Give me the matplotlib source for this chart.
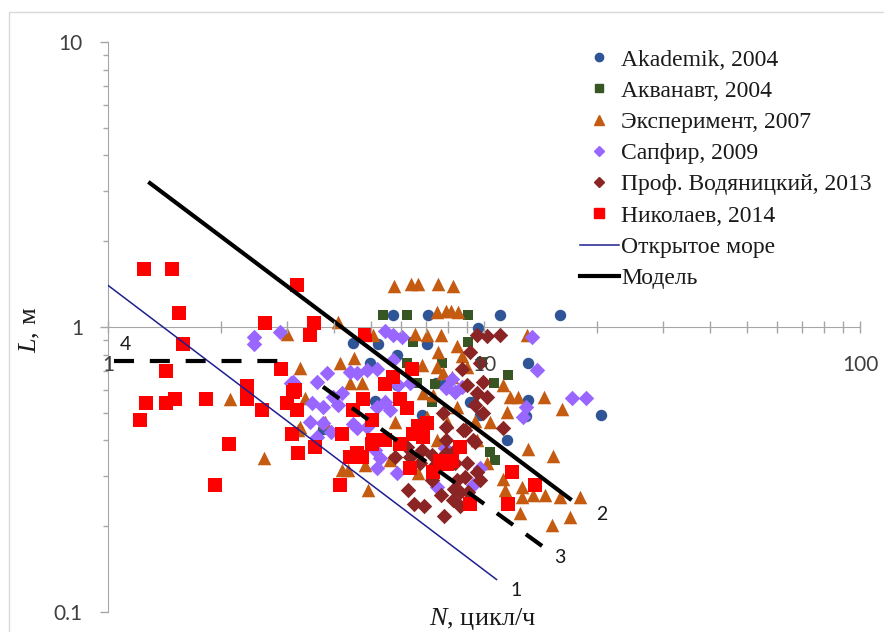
import matplotlib
matplotlib.use("Agg")
import matplotlib.pyplot as plt
from matplotlib.lines import Line2D
from matplotlib.patches import Rectangle
from matplotlib.ticker import LogLocator, NullFormatter, FixedLocator, FixedFormatter

plt.rcParams['font.family'] = ['Liberation Serif', 'DejaVu Serif']
plt.rcParams['mathtext.fontset'] = 'custom'
plt.rcParams['mathtext.it'] = 'Liberation Serif:italic'
plt.rcParams['mathtext.rm'] = 'Liberation Serif'

# ---------------------------------------------------------------- data
# N, cycles/h  and  L, m
akademik_N = [5.73, 7.10, 11.0, 15.9, 9.64, 4.49, 5.23, 7.05, 4.98, 13.1, 5.13, 6.84,
              7.45, 7.93, 9.35, 9.76, 13.1, 12.9, 11.5, 3.73, 5.87, 20.5, 5.87, 9.18]
akademik_L = [1.10, 1.10, 1.10, 1.10, 0.99, 0.879, 0.872, 0.872, 0.748, 0.748, 0.550, 0.491,
              0.636, 0.636, 0.545, 0.491, 0.555, 0.487, 0.401, 0.439, 0.626, 0.491, 0.798, 0.545]

akvanavt_N = [5.39, 6.24, 9.07, 9.07, 6.49, 7.74, 6.24, 11.6, 10.6, 6.63, 7.41, 10.4,
              10.7, 9.87, 7.27, 5.45]
akvanavt_L = [1.10, 1.10, 1.10, 0.886, 0.886, 0.748, 0.748, 0.679, 0.636, 0.636, 0.631, 0.365,
              0.341, 0.754, 0.545, 0.626]

eksperiment_N = [5.76, 6.40, 6.68, 7.55, 8.27, 7.50, 7.93, 8.17, 8.53, 4.09, 2.99, 6.55,
                 7.05, 7.69, 13.0, 4.14, 4.51, 3.24, 6.84, 7.55, 8.47, 8.74, 9.01, 7.50,
                 4.40, 4.73, 6.88, 7.32, 7.78, 8.22, 11.2, 11.7, 12.3, 14.4, 16.1, 11.5,
                 10.4, 9.46, 7.98, 8.47, 5.80, 7.05, 13.1, 15.3, 4.19, 4.35, 4.92, 4.83,
                 9.58, 10.2, 11.2, 12.6, 13.5, 11.4, 12.6, 14.5, 15.9, 18.0, 16.9, 15.2,
                 12.5, 2.11, 2.60, 3.20, 3.34, 3.78, 3.24, 5.62, 6.68, 7.50, 5.07]
eksperiment_L = [1.39, 1.42, 1.42, 1.42, 1.39, 1.13, 1.14, 1.14, 1.13, 1.04, 0.945, 0.945,
                 0.937, 0.937, 0.937, 0.748, 0.778, 0.718, 0.736, 0.817, 0.858, 0.791, 0.724, 0.724,
                 0.636, 0.636, 0.587, 0.577, 0.690, 0.668, 0.626, 0.568, 0.568, 0.568, 0.516, 0.503,
                 0.464, 0.468, 0.464, 0.524, 0.464, 0.483, 0.373, 0.353, 0.315, 0.315, 0.268, 0.328,
                 0.401, 0.333, 0.293, 0.275, 0.257, 0.268, 0.253, 0.257, 0.253, 0.253, 0.215, 0.202,
                 0.223, 0.559, 0.347, 0.435, 0.563, 0.464, 0.446, 0.341, 0.307, 0.401, 0.937]

sapfir_N = [2.44, 2.44, 2.87, 3.07, 3.60, 3.82, 3.49, 3.73, 3.45, 3.73, 3.96, 4.19, 4.09,
            4.40, 4.60, 4.89, 5.19, 5.45, 5.73, 6.06, 5.73, 6.36, 5.91, 8.22, 8.74, 7.93,
            8.37, 13.4, 13.8, 17.1, 18.7, 12.9, 12.7, 5.19, 5.62, 4.60, 4.89, 4.49, 5.13,
            5.29, 5.19, 5.87, 7.50, 9.35, 9.76, 7.88, 5.45, 3.60, 3.93, 3.10]
sapfir_L = [0.922, 0.872, 0.960, 0.636, 0.641, 0.690, 0.541, 0.524, 0.464, 0.460, 0.568, 0.587, 0.533,
            0.695, 0.690, 0.707, 0.712, 0.968, 0.937, 0.922, 0.766, 0.636, 0.626, 0.657, 0.616, 0.611,
            0.591, 0.922, 0.707, 0.563, 0.563, 0.524, 0.483, 0.524, 0.512, 0.442, 0.446, 0.457, 0.370,
            0.347, 0.320, 0.307, 0.275, 0.279, 0.320, 0.377, 0.545, 0.411, 0.428, 0.641]

vodyanitsky_N = [9.58, 10.2, 11.0, 9.18, 8.74, 9.76, 9.93, 9.58, 10.2, 9.01, 7.78, 8.90,
                 9.46, 11.2, 7.93, 6.28, 6.51, 6.93, 7.69, 8.32, 7.27, 5.80, 6.76, 7.93,
                 8.90, 9.58, 8.37, 6.24, 7.83, 8.27, 6.36, 7.41, 7.93, 8.37, 9.46, 9.93,
                 8.79, 9.35, 9.76, 8.47, 8.63, 8.63, 9.07, 9.01, 6.84, 7.27]
vodyanitsky_L = [0.937, 0.930, 0.937, 0.817, 0.712, 0.748, 0.641, 0.587, 0.568, 0.626, 0.499, 0.435,
                 0.395, 0.442, 0.446, 0.268, 0.239, 0.235, 0.257, 0.270, 0.290, 0.350, 0.334, 0.361,
                 0.298, 0.310, 0.334, 0.380, 0.217, 0.247, 0.350, 0.328, 0.401, 0.370, 0.533, 0.499,
                 0.435, 0.401, 0.290, 0.290, 0.264, 0.235, 0.264, 0.334, 0.370, 0.356]

nikolaev_N = [1.25, 1.48, 1.54, 1.58, 1.22, 1.26, 1.43, 1.51, 1.82, 1.43, 1.93, 2.10,
              2.34, 2.34, 2.57, 2.62, 2.89, 2.99, 3.10, 3.18, 3.18, 3.53, 3.45, 3.08,
              3.20, 3.55, 4.14, 4.19, 4.40, 4.73, 4.76, 4.49, 5.04, 5.04, 5.45, 4.83,
              5.45, 5.73, 6.43, 5.98, 6.24, 6.49, 6.68, 7.05, 6.88, 6.36, 7.32, 7.98,
              7.64, 5.98, 8.63, 8.22, 11.9, 13.7, 11.6, 9.18, 3.14, 4.60, 5.08]
nikolaev_L = [1.60, 1.60, 1.12, 0.87, 0.47, 0.54, 0.54, 0.56, 0.56, 0.70, 0.28, 0.39,
              0.62, 0.56, 0.51, 1.03, 0.71, 0.54, 0.59, 0.51, 1.40, 1.03, 0.94, 0.42,
              0.36, 0.38, 0.28, 0.42, 0.35, 0.35, 0.56, 0.51, 0.47, 0.39, 0.40, 0.94,
              0.63, 0.67, 0.71, 0.56, 0.52, 0.42, 0.45, 0.46, 0.41, 0.32, 0.31, 0.33,
              0.34, 0.39, 0.38, 0.34, 0.31, 0.28, 0.24, 0.24, 0.60, 0.36, 0.40]

# lines: 1 - open sea, 2 - model, 3 and 4 - dashed
open_sea_N = [1.0, 10.8]
open_sea_L = [1.40, 0.130]
model_N = [1.28, 17.1]
model_L = [3.23, 0.247]
line3_N = [3.73, 14.4]
line3_L = [0.617, 0.169]
line4_N = [1.04, 2.9]
line4_L = [0.76, 0.76]

line_tags = ['1', '2', '3', '4']
tag_N = [12.2, 20.6, 15.9, 1.11]
tag_L = [0.119, 0.219, 0.155, 0.865]

series_names = ['Akademik, 2004', 'Акванавт, 2004', 'Эксперимент, 2007', 'Сапфир, 2009',
                'Проф. Водяницкий, 2013', 'Николаев, 2014']
line_names = ['Открытое море', 'Модель']

x_ticks = [1, 10, 100]
x_ticklabels = ['1', '10', '100']
y_ticks = [0.1, 1, 10]
y_ticklabels = ['0.1', '1', '10']

# ---------------------------------------------------------------- plot
fig = plt.figure(figsize=(8.84, 6.32), dpi=100)
ax = fig.add_axes([108/884, 1 - 612/632, 752/884, 570/632])
ax.set_xscale('log')
ax.set_yscale('log')
ax.set_xlim(1, 100)
ax.set_ylim(0.1, 10)

c_blue = '#2F5597'
c_green = '#375623'
c_orange = '#C55A11'
c_purple = '#9966FF'
c_brown = '#8B2525'
c_red = '#FF0000'
c_navy = '#1F1F8F'

ax.scatter(akademik_N, akademik_L, marker='o', s=68, color=c_blue, lw=0, zorder=3)
ax.scatter(akvanavt_N, akvanavt_L, marker='s', s=60, color=c_green, lw=0, zorder=3)
ax.scatter(eksperiment_N, eksperiment_L, marker='^', s=95, color=c_orange, lw=0, zorder=3)
ax.scatter(sapfir_N, sapfir_L, marker='D', s=62, color=c_purple, lw=0, zorder=3)
ax.scatter(vodyanitsky_N, vodyanitsky_L, marker='D', s=62, color=c_brown, lw=0, zorder=3)
ax.scatter(nikolaev_N, nikolaev_L, marker='s', s=92, color=c_red, lw=0, zorder=3)

ax.plot(open_sea_N, open_sea_L, color=c_navy, lw=1.1, zorder=4)
ax.plot(model_N, model_L, color='black', lw=3, solid_capstyle='butt', zorder=4)
ax.plot(line3_N, line3_L, color='black', lw=3, ls=(0, (4.8, 3.8)), zorder=4)
ax.plot(line4_N, line4_L, color='black', lw=3, ls=(0, (4.8, 3.8)), zorder=4)

for t, n, l in zip(line_tags, tag_N, tag_L):
    ax.text(n, l, t, family='Lato', fontsize=14, color='#1a1a1a',
            ha='center', va='center', zorder=5)

# axes styling
for s in ['top', 'right']:
    ax.spines[s].set_visible(False)
ax.spines['bottom'].set_position(('data', 1))
ax.spines['bottom'].set_color('#a6a6a6')
ax.spines['left'].set_color('#a6a6a6')

ax.xaxis.set_major_locator(FixedLocator(x_ticks))
ax.xaxis.set_major_formatter(FixedFormatter(x_ticklabels))
ax.xaxis.set_minor_locator(LogLocator(base=10, subs=range(2, 10)))
ax.xaxis.set_minor_formatter(NullFormatter())
ax.yaxis.set_major_locator(FixedLocator(y_ticks))
ax.yaxis.set_major_formatter(FixedFormatter(y_ticklabels))
ax.yaxis.set_minor_locator(LogLocator(base=10, subs=range(2, 10)))
ax.yaxis.set_minor_formatter(NullFormatter())

ax.tick_params(axis='x', which='both', direction='inout', length=8.5, width=1,
               color='#a6a6a6', pad=16, labelsize=15, labelcolor='#404040')
ax.tick_params(axis='y', which='major', direction='out', length=6, width=1,
               color='#a6a6a6', pad=12, labelsize=15, labelcolor='#404040')
ax.tick_params(axis='y', which='minor', direction='out', length=3.5, width=1, color='#a6a6a6')
for lab in ax.get_xticklabels() + ax.get_yticklabels():
    lab.set_family('Lato')
ax.xaxis.set_zorder(5)

fig.text(30/884, 1 - 330/632, r'$L$, м', rotation=90, fontsize=19,
         ha='center', va='center', color='#1a1a1a')
fig.text(483/884, 1 - 619/632, r'$N$, цикл/ч', fontsize=19,
         ha='center', va='center', color='#1a1a1a')

handles = [
    Line2D([], [], ls='none', marker='o', ms=6, color=c_blue),
    Line2D([], [], ls='none', marker='s', ms=6, color=c_green),
    Line2D([], [], ls='none', marker='^', ms=7, color=c_orange),
    Line2D([], [], ls='none', marker='D', ms=5.5, color=c_purple),
    Line2D([], [], ls='none', marker='D', ms=5.5, color=c_brown),
    Line2D([], [], ls='none', marker='s', ms=7.5, color=c_red),
    Line2D([], [], color=c_navy, lw=1.1),
    Line2D([], [], color='black', lw=3),
]
leg = fig.legend(handles, series_names + line_names, loc='upper left',
                 bbox_to_anchor=(580/884, 1 - 49/632), frameon=False,
                 fontsize=17, handlelength=1.65, handletextpad=0.1,
                 labelspacing=0.41, borderpad=0, borderaxespad=0)
for t in leg.get_texts():
    t.set_color('#1a1a1a')

fig.patches.append(Rectangle((9/884, -0.1), 1.2, 1.1 - 12/632, transform=fig.transFigure,
                             fill=False, edgecolor='#d9d9d9', lw=1))

fig.savefig('out.png', dpi=100)
